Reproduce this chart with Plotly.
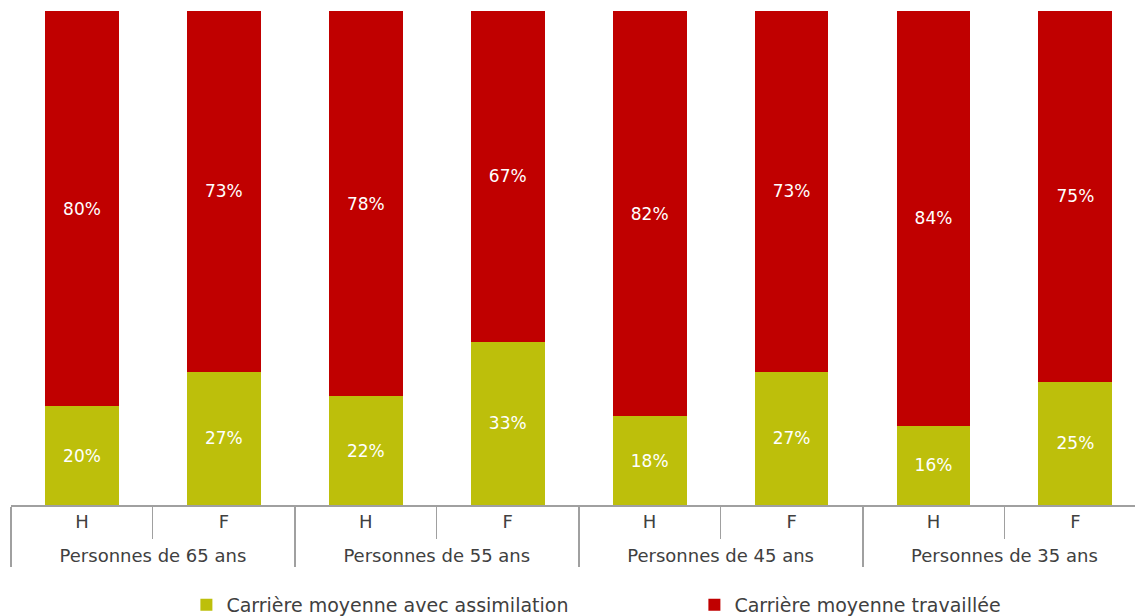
import plotly.graph_objects as go

groups = ["Personnes de 65 ans", "Personnes de 55 ans", "Personnes de 45 ans", "Personnes de 35 ans"]
sexes = ["H", "F"]
assimilation = [20, 27, 22, 33, 18, 27, 16, 25]
travaillee = [80, 73, 78, 67, 82, 73, 84, 75]

LABEL_PX = 18
# short blank lines (at the 9px base size) space the H/F row from the group row
x_outer = [f"<br><span style='font-size:{LABEL_PX}px'>{g}</span>" for g in groups for _ in sexes]
x_inner = [f"<span style='font-size:{LABEL_PX}px'>{s}</span><br>&nbsp;" for _ in groups for s in sexes]

FONT = "DejaVu Sans"
GREEN = "#BDBF0B"
RED = "#C00000"

fig = go.Figure()
fig.add_trace(go.Bar(
    x=[x_outer, x_inner], y=assimilation, name="Carrière moyenne avec assimilation",
    marker=dict(color=GREEN, line=dict(width=0)),
    text=[f"{v}%" for v in assimilation], textposition="inside",
    insidetextanchor="middle", textfont=dict(color="white", size=17, family=FONT),
))
fig.add_trace(go.Bar(
    x=[x_outer, x_inner], y=travaillee, name="Carrière moyenne travaillée",
    marker=dict(color=RED, line=dict(width=0)),
    text=[f"{v}%" for v in travaillee], textposition="inside",
    insidetextanchor="middle", textfont=dict(color="white", size=17, family=FONT),
))

fig.update_layout(
    barmode="stack", bargap=0.48,
    width=1135, height=616,
    margin=dict(l=11, r=0, t=11, b=111, autoexpand=False),
    paper_bgcolor="white", plot_bgcolor="white",
    font=dict(family=FONT, size=18, color="#404040"),
    showlegend=True,
    legend=dict(orientation="h", x=0.608, xanchor="center", y=-0.2024, yanchor="middle",
                entrywidth=463, traceorder="normal",
                font=dict(size=19, color="#404040")),
    uniformtext=dict(minsize=10, mode="show"),
)
fig.update_xaxes(
    type="multicategory", range=[-0.5, 7.42], automargin=False,
    showline=True, linecolor="#A0A0A0", linewidth=1.5,
    ticks="outside", tickson="boundaries", ticklen=32, tickcolor="#A0A0A0",
    ticklabelstandoff=10,
    showdividers=True, dividercolor="#A0A0A0", dividerwidth=1.5,
    showgrid=False, tickfont=dict(size=9, color="#404040"),
)
fig.update_yaxes(range=[0, 100], visible=False, showgrid=False)

fig.write_html("out.html")
